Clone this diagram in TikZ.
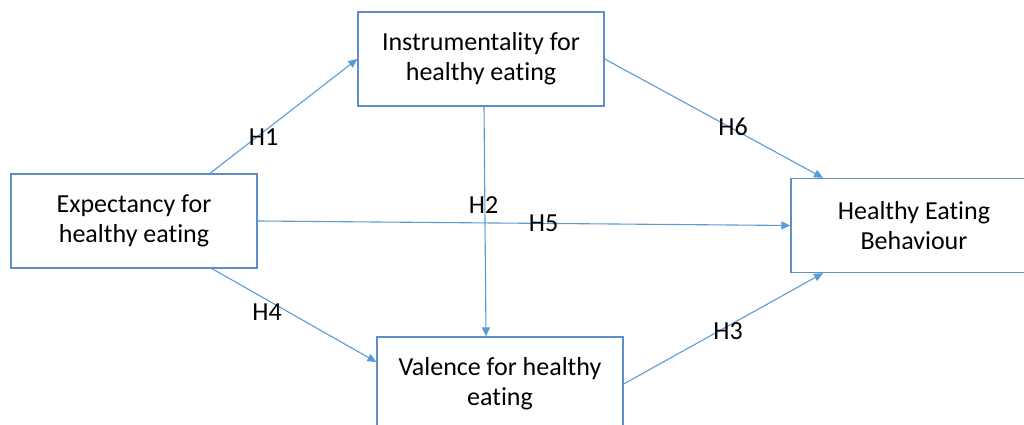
\documentclass[tikz,border=0pt]{standalone}
\usepackage{fontspec}
\setmainfont{Carlito}[Ligatures=NoCommon]
\usetikzlibrary{arrows.meta,calc}
\definecolor{linkblue}{HTML}{5B9BD5}
\definecolor{boxblue}{HTML}{5F8FC6}
\tikzset{
    box/.style={draw=boxblue, line width=1.3pt, minimum width=246pt, minimum height=94pt,
        align=center, inner sep=0pt, font=\fontsize{26}{30}\selectfont},
    link/.style={draw=linkblue, line width=1.1pt, -{Triangle[length=9pt, width=8pt]}},
    hyp/.style={inner sep=0pt, font=\fontsize{26}{30}\selectfont}
}
\begin{document}
\begin{tikzpicture}[x=1pt, y=1pt]
    % Vùng hiển thị cố định
    \useasboundingbox (0, 0) rectangle (1024, 425);
    \clip (0, 0) rectangle (1024, 425);

    % 1. Các hộp
    \node[box] (instr) at (481, 366) {Instrumentality for\\healthy eating};
    \node[box] (expect) at (134, 204) {Expectancy for\\healthy eating};
    \node[box] (behav) at (914, 199.5) {Healthy Eating\\Behaviour};
    \node[box] (valence) at (500, 41) {Valence for healthy\\eating};

    % 2. Các mũi tên
    \draw[link] ($(expect.north)+(76, 0)$) -- (instr.west);
    \draw[link] (instr.east) -- ($(behav.north)+(-91, 0)$);
    \draw[link] ($(instr.south)+(3, 0)$) -- ($(valence.north)+(-14, 0)$);
    \draw[link] (expect.east) -- (behav.west);
    \draw[link] ($(expect.south)+(78, 0)$) -- ($(valence.west)+(0, 22)$);
    \draw[link] (valence.east) -- ($(behav.south)+(-91, 0)$);

    % 3. Nhãn giả thuyết
    \node[hyp] (h1) at (263.5, 288) {H1};
    \node[hyp] (h6) at (733, 298) {H6};
    \node[hyp] (h2) at (483.5, 220) {H2};
    \node[hyp] (h5) at (543.5, 201.5) {H5};
    \node[hyp] (h4) at (267, 113) {H4};
    \node[hyp] (h3) at (728, 94) {H3};
\end{tikzpicture}
\end{document}
